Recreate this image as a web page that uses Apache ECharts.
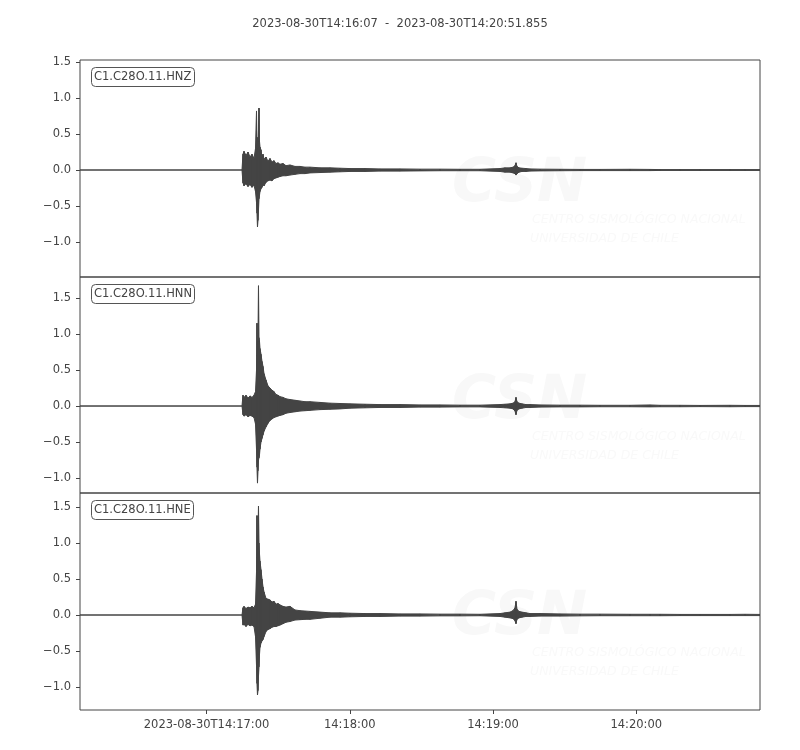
<!DOCTYPE html>
<html>
<head>
<meta charset="utf-8">
<script src="https://cdn.jsdelivr.net/npm/echarts@6/dist/echarts.min.js"></script>
<style>
html,body{margin:0;padding:0;background:#fff;}
#chart{width:800px;height:750px;}
</style>
</head>
<body>
<div id="chart"></div>
<script>
// time in seconds after 2023-08-30T14:16:00
const times = [7.00,74.86,75.28,75.70,76.54,77.38,78.21,79.05,79.89,80.52,
  80.94,81.14,81.35,81.56,81.77,81.98,82.19,82.40,82.82,83.24,
  83.66,84.08,84.92,85.75,86.59,87.43,88.27,89.10,89.94,90.78,
  92.04,93.29,94.97,97.06,99.16,101.25,103.35,107.54,111.73,115.91,
  120.10,126.39,132.67,141.05,149.43,157.80,166.18,174.56,182.94,185.03,
  187.13,188.38,189.22,189.64,190.06,190.90,192.15,193.83,195.51,199.69,
  208.07,216.45,224.83,237.40,245.77,249.96,258.34,266.72,279.29,285.57,291.855];

const hnzUpper = [0,0,0.22,0.26,0.20,0.25,0.18,0.22,0.16,0.30,
  0.82,0.35,0.45,0.30,0.55,0.86,0.40,0.32,0.28,0.18,
  0.22,0.15,0.18,0.12,0.16,0.11,0.13,0.09,0.10,0.08,
  0.09,0.06,0.07,0.05,0.05,0.04,0.04,0.03,0.03,0.025,
  0.02,0.02,0.015,0.015,0.012,0.012,0.01,0.01,0.02,0.03,
  0.03,0.04,0.06,0.10,0.05,0.03,0.025,0.02,0.015,0.012,
  0.01,0.008,0.008,0.01,0.008,0.006,0.006,0.006,0.006,0.006,0.006];
const hnzLower = [0,0,-0.18,-0.22,-0.19,-0.23,-0.20,-0.24,-0.21,-0.30,
  -0.45,-0.60,-0.79,-0.70,-0.55,-0.40,-0.35,-0.30,-0.26,-0.24,
  -0.20,-0.22,-0.17,-0.15,-0.14,-0.15,-0.12,-0.11,-0.10,-0.09,
  -0.08,-0.08,-0.07,-0.06,-0.05,-0.05,-0.04,-0.035,-0.03,-0.025,
  -0.02,-0.02,-0.015,-0.015,-0.012,-0.01,-0.01,-0.01,-0.02,-0.03,
  -0.03,-0.04,-0.05,-0.07,-0.05,-0.03,-0.02,-0.02,-0.015,-0.012,
  -0.01,-0.008,-0.008,-0.008,-0.008,-0.006,-0.006,-0.006,-0.006,-0.006,-0.006];

const hnnUpper = [0,0,0.15,0.12,0.15,0.11,0.14,0.12,0.15,0.20,
  0.50,1.15,0.70,0.90,1.67,0.95,0.90,0.80,0.72,0.62,
  0.55,0.45,0.36,0.28,0.25,0.22,0.20,0.16,0.15,0.13,
  0.12,0.10,0.09,0.08,0.07,0.06,0.06,0.05,0.04,0.035,
  0.03,0.025,0.02,0.02,0.015,0.015,0.012,0.012,0.02,0.025,
  0.03,0.04,0.06,0.12,0.06,0.04,0.03,0.02,0.02,0.015,
  0.012,0.012,0.01,0.01,0.015,0.01,0.01,0.008,0.01,0.008,0.008];
const hnnLower = [0,0,-0.12,-0.14,-0.12,-0.15,-0.13,-0.14,-0.16,-0.25,
  -0.60,-0.85,-1.07,-0.90,-0.75,-0.72,-0.68,-0.60,-0.50,-0.45,
  -0.40,-0.35,-0.29,-0.24,-0.20,-0.18,-0.16,-0.15,-0.14,-0.13,
  -0.12,-0.10,-0.09,-0.08,-0.07,-0.065,-0.06,-0.05,-0.045,-0.04,
  -0.03,-0.025,-0.02,-0.02,-0.015,-0.015,-0.012,-0.012,-0.02,-0.025,
  -0.03,-0.04,-0.07,-0.12,-0.06,-0.04,-0.03,-0.02,-0.02,-0.015,
  -0.012,-0.012,-0.01,-0.01,-0.012,-0.01,-0.01,-0.008,-0.01,-0.008,-0.008];

const hneUpper = [0,0,0.10,0.12,0.09,0.11,0.10,0.12,0.10,0.15,
  0.60,1.38,0.80,1.10,1.51,1.00,0.85,0.75,0.63,0.50,
  0.39,0.32,0.23,0.22,0.21,0.18,0.19,0.15,0.16,0.14,
  0.12,0.11,0.12,0.07,0.06,0.055,0.05,0.04,0.03,0.03,
  0.025,0.02,0.02,0.015,0.015,0.012,0.012,0.01,0.02,0.03,
  0.04,0.06,0.10,0.19,0.08,0.05,0.04,0.03,0.02,0.02,
  0.015,0.012,0.012,0.01,0.01,0.01,0.008,0.008,0.008,0.01,0.008];
const hneLower = [0,0,-0.14,-0.13,-0.16,-0.13,-0.15,-0.14,-0.16,-0.30,
  -0.70,-0.95,-1.11,-1.05,-0.85,-0.72,-0.55,-0.45,-0.39,-0.36,
  -0.34,-0.30,-0.23,-0.20,-0.19,-0.17,-0.16,-0.16,-0.15,-0.14,
  -0.12,-0.10,-0.09,-0.07,-0.065,-0.06,-0.06,-0.045,-0.03,-0.03,
  -0.025,-0.02,-0.02,-0.015,-0.015,-0.012,-0.012,-0.01,-0.02,-0.03,
  -0.04,-0.05,-0.08,-0.12,-0.06,-0.04,-0.03,-0.02,-0.02,-0.015,
  -0.015,-0.012,-0.01,-0.01,-0.01,-0.01,-0.008,-0.008,-0.008,-0.008,-0.008];

const traceNames = ['C1.C28O.11.HNZ','C1.C28O.11.HNN','C1.C28O.11.HNE'];
const xTickValues = [60,120,180,240];
const xTickLabels = ['2023-08-30T14:17:00','14:18:00','14:19:00','14:20:00'];
const yTickValues = [-1.0,-0.5,0.0,0.5,1.0,1.5];
const yRanges = [[-1.486,1.528],[-1.208,1.792],[-1.319,1.694]];
const titleText = '2023-08-30T14:16:07  -  2023-08-30T14:20:51.855';

const C = '#444444';
const FONT = 'DejaVu Sans';
const gridTops = [60,277,493];
const gridHeights = [217,216,217];
const traces = [[hnzUpper,hnzLower],[hnnUpper,hnnLower],[hneUpper,hneLower]];

const grids = gridTops.map((t,i)=>({left:80, width:680, top:t, height:gridHeights[i],
  show:true, borderColor:C, borderWidth:1, backgroundColor:'transparent'}));

const xAxes = gridTops.map((t,i)=>({
  type:'value', gridIndex:i, min:7, max:291.855, position:'bottom',
  axisLine:{show:false, onZero:false}, splitLine:{show:false},
  axisTick:{show:i===2, inside:false, length:4, lineStyle:{color:C}, customValues:xTickValues},
  axisLabel:{show:i===2, customValues:xTickValues, color:C, fontFamily:FONT, fontSize:11.5, margin:9,
    formatter:(v)=>{const k=xTickValues.indexOf(v); return k>=0?xTickLabels[k]:'';}}
}));

const yAxes = gridTops.map((t,i)=>({
  type:'value', gridIndex:i, min:yRanges[i][0], max:yRanges[i][1], position:'left',
  axisLine:{show:false, onZero:false}, splitLine:{show:false},
  axisTick:{show:true, inside:false, length:4, lineStyle:{color:C}, customValues:yTickValues},
  axisLabel:{customValues:yTickValues, color:C, fontFamily:FONT, fontSize:11.5, margin:9,
    formatter:(v)=>{const s=Math.abs(v).toFixed(1); return v<0?'\u2212'+s:s;}}
}));

// each data item = one segment between consecutive samples: [t0, up0, lo0, t1, up1, lo1]
function renderSegment(params, api){
  const p0u = api.coord([api.value(0), api.value(1)]);
  const p0l = api.coord([api.value(0), api.value(2)]);
  const p1u = api.coord([api.value(3), api.value(4)]);
  const p1l = api.coord([api.value(3), api.value(5)]);
  return {type:'polygon', shape:{points:[p0u,p1u,p1l,p0l]},
    style:{fill:C, stroke:C, lineWidth:1}};
}

const series = traces.map((tr,i)=>{
  const up = tr[0], lo = tr[1];
  const segs = [];
  for(let k=0;k<times.length-1;k++){
    segs.push([times[k], up[k], lo[k], times[k+1], up[k+1], lo[k+1]]);
  }
  return {type:'custom', xAxisIndex:i, yAxisIndex:i, silent:true, z:3,
    renderItem:renderSegment, encode:{x:[0,3], y:[1,2,4,5]}, data:segs, clip:true};
});

const titles = [{text:titleText, left:'center', top:13,
  textStyle:{color:C, fontFamily:FONT, fontSize:11.5, fontWeight:'normal'}}];
gridTops.forEach((t,i)=>{
  titles.push({text:traceNames[i], left:91, top:t+7, padding:[4,3,4,3],
    borderColor:'#555', borderWidth:1, borderRadius:4, backgroundColor:'#fff',
    textStyle:{color:C, fontFamily:FONT, fontSize:11.5, fontWeight:'normal'}});
});

const wm = [];
gridTops.forEach((t,i)=>{
  wm.push({type:'text', x:452, y:t+95, z:0, style:{text:'CSN', fill:'#f8f8f8',
    font:'italic bold 60px "DejaVu Sans"'}});
  wm.push({type:'text', x:532, y:t+153, z:0, style:{text:'CENTRO SISMOLÓGICO NACIONAL', fill:'#f9f9f9',
    font:'italic 12.5px "DejaVu Sans"'}});
  wm.push({type:'text', x:530, y:t+172, z:0, style:{text:'UNIVERSIDAD DE CHILE', fill:'#f9f9f9',
    font:'italic 12.5px "DejaVu Sans"'}});
});

const chart = echarts.init(document.getElementById('chart'), null, {renderer:'canvas'});
chart.setOption({
  animation:false,
  backgroundColor:'#fff',
  title:titles,
  grid:grids,
  xAxis:xAxes,
  yAxis:yAxes,
  series:series,
  graphic:wm
});
</script>
</body>
</html>
